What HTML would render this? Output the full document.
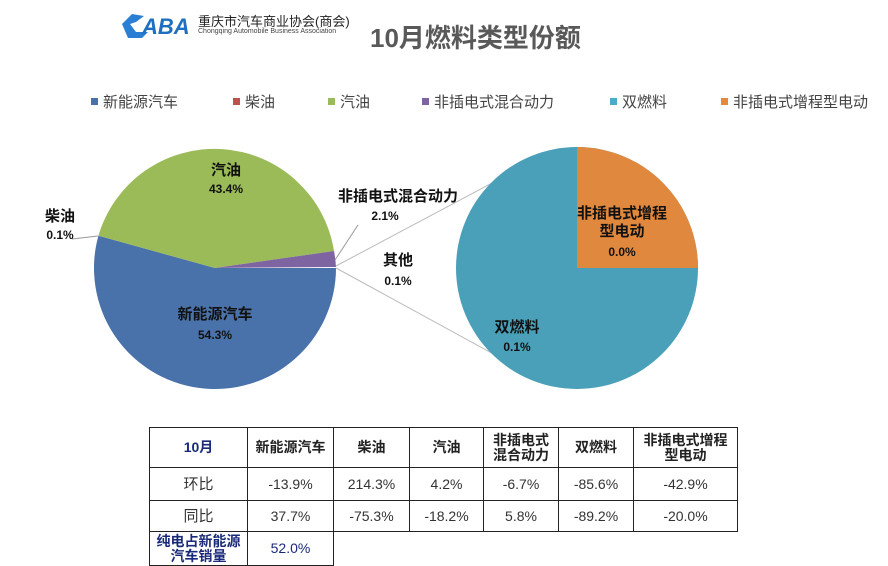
<!DOCTYPE html>
<html><head><meta charset="utf-8"><style>
body{margin:0;width:888px;height:565px;background:#fff;position:relative;overflow:hidden;font-family:"Liberation Sans","Noto Sans CJK SC",sans-serif}
.a{position:absolute;white-space:nowrap}
table{position:absolute;left:149px;top:427px;border-collapse:collapse;font-family:"Liberation Sans","Noto Sans CJK SC",sans-serif;}
td{border:1px solid #222;text-align:center;font-size:14px;color:#333;padding:0;line-height:15px}
.h td{font-weight:bold;color:#222}
.lg{position:absolute;top:91px;font-size:15px;color:#444;white-space:nowrap}
.lg i{display:inline-block;width:7px;height:7px;margin-right:5px;vertical-align:2px}
</style></head><body>
<svg class="a" style="left:118px;top:10px" width="80" height="30"><path d="M4 14 L14 4 L26 6 L18 12 L12 14 L18 22 L30 22 L24 28 L10 28 Z" fill="#2a7fd4"/><text x="24" y="24" font-size="22" font-weight="bold" fill="#1e6fc0" font-family="Liberation Sans" font-style="italic">ABA</text></svg>
<div class="a" style="left:198px;top:11px;font-size:13px;color:#222">重庆市汽车商业协会(商会)</div>
<div class="a" style="left:198px;top:28px;font-size:7px;color:#444">Chongqing Automobile Business Association</div>
<div class="a" style="left:370px;top:18px;font-size:26px;font-weight:bold;color:#595959">10月燃料类型份额</div>
<div class="lg" style="left:91px"><i style="background:#4a72aa"></i>新能源汽车</div>
<div class="lg" style="left:233px"><i style="background:#c0504d"></i>柴油</div>
<div class="lg" style="left:328px"><i style="background:#9bbb59"></i>汽油</div>
<div class="lg" style="left:422px"><i style="background:#7f64a2"></i>非插电式混合动力</div>
<div class="lg" style="left:610px"><i style="background:#4aacc6"></i>双燃料</div>
<div class="lg" style="left:721px"><i style="background:#e8883a"></i>非插电式增程型电动</div>
<svg class="a" style="left:0;top:0" width="888" height="420">
<path d="M215 268 L336 268 A121 121 0 1 1 98.4 235.7 Z" fill="#4a72aa"/>
<path d="M215 268 L98.4 235.7 A121 121 0 0 1 334 251 Z" fill="#9bbb59"/>
<path d="M215 268 L334 251 A121 121 0 0 1 336 267 Z" fill="#7f64a2"/>
<line x1="98" y1="236" x2="72" y2="239" stroke="#999"/>
<line x1="335" y1="260" x2="358" y2="225" stroke="#999"/>
<line x1="336" y1="266" x2="552" y2="151" stroke="#bbb"/>
<line x1="336" y1="268" x2="552" y2="386" stroke="#bbb"/>
<circle cx="577" cy="268" r="121" fill="#4aa0b8"/>
<path d="M577 268 L577 147 A121 121 0 0 1 698 268 Z" fill="#e0883d"/>
<g font-family="Liberation Sans,Noto Sans CJK SC,sans-serif" font-size="15" font-weight="bold" fill="#111" text-anchor="middle">
<text x="226" y="175">汽油</text><text x="226" y="193" font-size="12">43.4%</text>
<text x="60" y="221">柴油</text><text x="60" y="239" font-size="12">0.1%</text>
<text x="398" y="201">非插电式混合动力</text><text x="385" y="220" font-size="12">2.1%</text>
<text x="398" y="265">其他</text><text x="398" y="285" font-size="12">0.1%</text>
<text x="215" y="319">新能源汽车</text><text x="215" y="339" font-size="12">54.3%</text>
<text x="622" y="218">非插电式增程</text><text x="622" y="236">型电动</text><text x="622" y="256" font-size="12">0.0%</text>
<text x="517" y="332">双燃料</text><text x="517" y="351" font-size="12">0.1%</text>
</g></svg>
<table>
<tr class="h" style="height:40px"><td style="width:97px;color:#1a2a7a">10月</td><td style="width:85px">新能源汽车</td><td style="width:75px">柴油</td><td style="width:73px">汽油</td><td style="width:74px">非插电式<br>混合动力</td><td style="width:74px">双燃料</td><td style="width:103px">非插电式增程<br>型电动</td></tr>
<tr style="height:33px"><td style="font-size:15px">环比</td><td>-13.9%</td><td>214.3%</td><td>4.2%</td><td>-6.7%</td><td>-85.6%</td><td>-42.9%</td></tr>
<tr style="height:31px"><td style="font-size:15px">同比</td><td>37.7%</td><td>-75.3%</td><td>-18.2%</td><td>5.8%</td><td>-89.2%</td><td>-20.0%</td></tr>
<tr style="height:34px"><td style="font-weight:bold;color:#1a2a7a">纯电占新能源<br>汽车销量</td><td style="color:#1a2a7a">52.0%</td><td style="border:none" colspan="5"></td></tr>
</table>
</body></html>
